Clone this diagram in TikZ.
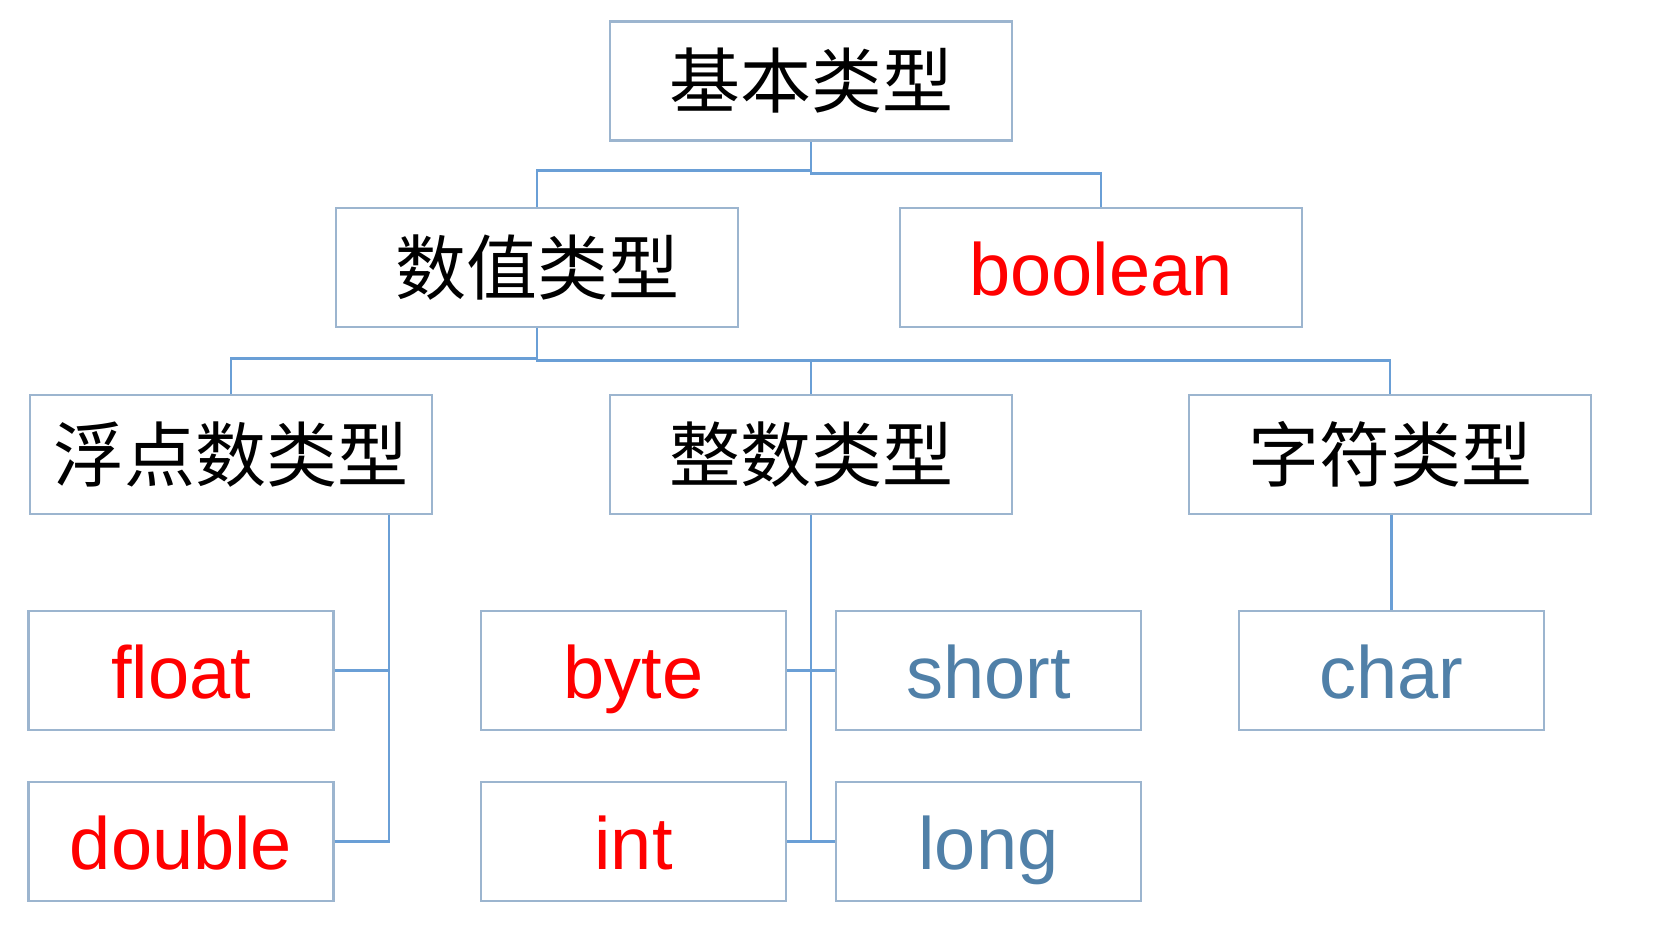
\documentclass[tikz,border=0pt]{standalone}
\usepackage{fontspec}
\setmainfont{Liberation Sans}
\newfontfamily\cjk{Noto Sans CJK SC}
\definecolor{boxline}{HTML}{9CB5CF}
\definecolor{connline}{HTML}{6A9FD6}
\definecolor{txtred}{HTML}{FF0000}
\definecolor{txtblue}{HTML}{5080A8}
\tikzset{
  bigbox/.style={draw=boxline, line width=1.2pt, fill=white, minimum width=201pt, minimum height=59.5pt, inner sep=0pt, font=\cjk\fontsize{35.5}{40}\selectfont},
  smallbox/.style={draw=boxline, line width=1.2pt, fill=white, minimum width=152.5pt, minimum height=59.5pt, inner sep=0pt, font=\fontsize{37}{42}\selectfont, text height=28pt, text depth=0pt},
  latin/.style={font=\fontsize{37}{42}\selectfont, text height=28pt, text depth=0pt},
  redtxt/.style={text=txtred},
  bluetxt/.style={text=txtblue},
  conn/.style={draw=connline, line width=1.4pt}
}
\begin{document}
\begin{tikzpicture}[x=0.5pt,y=-0.5pt]
\useasboundingbox[fill=white] (0,0) rectangle (1658,932);
\node[bigbox] (top) at (811,81) {基本类型};
\node[bigbox] (num) at (537,267.5) {数值类型};
\node[bigbox, latin, redtxt] (bool) at (1101,267.5) {boolean};
\node[bigbox] (fu) at (231,454.5) {浮点数类型};
\node[bigbox] (zheng) at (811,454.5) {整数类型};
\node[bigbox] (zifu) at (1390,454.5) {字符类型};
\node[smallbox, redtxt] (float) at (181,670.5) {float};
\node[smallbox, redtxt] (double) at (181,841.5) {double};
\node[smallbox, redtxt] (byte) at (633.5,670.5) {byte};
\node[smallbox, bluetxt] (short) at (988.5,670.5) {short};
\node[smallbox, redtxt] (int) at (633.5,841.5) {int};
\node[smallbox, bluetxt] (long) at (988.5,841.5) {long};
\node[smallbox, bluetxt] (char) at (1391.5,670.5) {char};
% level 1
\draw[conn] (num.north) -- ++(0,-36) -| (top.south);
\draw[conn] (bool.north) -- ++(0,-33) -| (top.south);
% level 2
\draw[conn] (fu.north) -- ++(0,-35) -| (num.south);
\draw[conn] (zheng.north) -- ++(0,-33) -| (num.south);
\draw[conn] (zifu.north) -- ++(0,-33) -| (num.south);
% float branch
\coordinate (fv) at ([xshift=79pt]fu.south);
\draw[conn] (float.east) -| (fv);
\draw[conn] (double.east) -| (fv);
% integer branch
\draw[conn] (byte.east) -| (zheng.south);
\draw[conn] (short.west) -| (zheng.south);
\draw[conn] (int.east) -| (zheng.south);
\draw[conn] (long.west) -| (zheng.south);
% char branch
\draw[conn] (char.north) -- (char.north |- zifu.south);
\end{tikzpicture}
\end{document}
